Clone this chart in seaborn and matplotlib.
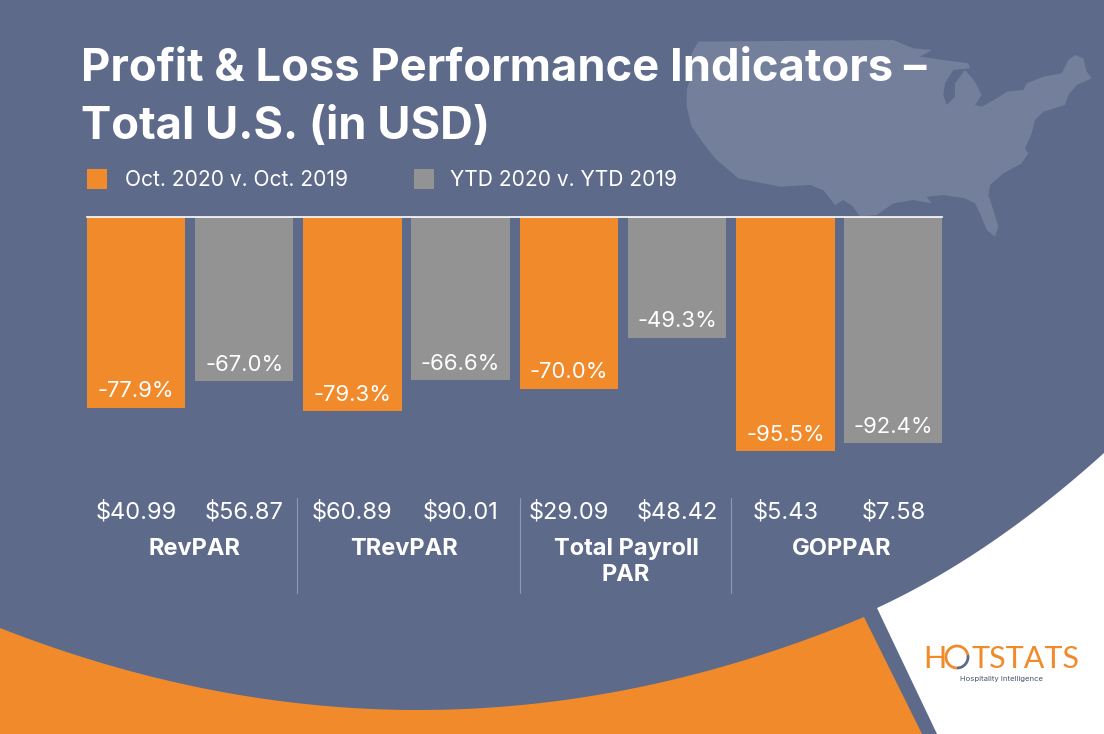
import numpy as np
import pandas as pd
import matplotlib
matplotlib.use("Agg")
import matplotlib.pyplot as plt
from matplotlib.patches import Arc, Polygon, Rectangle
from matplotlib.transforms import ScaledTranslation
import seaborn as sns

# data
metrics = ["RevPAR", "TRevPAR", "Total Payroll\nPAR", "GOPPAR"]
periods = ["Oct. 2020 v. Oct. 2019", "YTD 2020 v. YTD 2019"]
oct_change = [-77.9, -79.3, -70.0, -95.5]
ytd_change = [-67.0, -66.6, -49.3, -92.4]
oct_amounts = ["$40.99", "$60.89", "$29.09", "$5.43"]
ytd_amounts = ["$56.87", "$90.01", "$48.42", "$7.58"]

BLUE = "#5d6a8a"
ORANGE = "#f18a2b"
GREY = "#939393"
MAP = "#747f9b"

sns.set_theme(style="white")
plt.rcParams["font.family"] = ["Inter", "DejaVu Sans"]

W, H = 1104, 734
fig = plt.figure(figsize=(W / 100, H / 100), dpi=100, facecolor=BLUE)

# background layer in pixel coordinates
bg = fig.add_axes([0, 0, 1, 1], zorder=0)
bg.set_xlim(0, W)
bg.set_ylim(H, 0)
bg.axis("off")

# orange swoosh bottom left
coef = np.polyfit([0, 416, 864], [628, 710, 617], 2)
xs = np.linspace(0, 864, 200)
pts = list(zip(xs, np.polyval(coef, xs))) + [(922, H), (0, H)]
bg.add_patch(Polygon(pts, color=ORANGE, lw=0))

# white logo corner
coef = np.polyfit([877, 983, 1104], [608, 548, 453], 2)
xs = np.linspace(877, W, 200)
pts = list(zip(xs, np.polyval(coef, xs))) + [(W, H), (937, H)]
bg.add_patch(Polygon(pts, color="white", lw=0))

# US map outline, traced by hand
outline = [(115, 5), (700, 0), (760, 25), (815, 30), (780, 50), (850, 60), (925, 70), (930, 85),
           (880, 90), (855, 130), (850, 165), (860, 195), (885, 170), (885, 130), (915, 90),
           (945, 125), (965, 165), (945, 195), (965, 200), (1010, 175), (1040, 155), (1090, 150),
           (1100, 130), (1150, 110), (1205, 100), (1225, 60), (1245, 45), (1270, 55), (1280, 95),
           (1295, 115), (1250, 135), (1225, 165), (1215, 195), (1150, 215), (1125, 240),
           (1115, 280), (1095, 325), (1105, 340), (1085, 370), (1030, 400), (990, 435), (985, 465),
           (1000, 510), (1015, 560), (1005, 590), (980, 570), (960, 520), (945, 490), (915, 475),
           (850, 465), (800, 470), (815, 490), (760, 480), (700, 490), (650, 525), (600, 530),
           (580, 500), (550, 480), (525, 495), (490, 450), (450, 435), (360, 440), (235, 415),
           (165, 355), (130, 310), (95, 260), (80, 200), (80, 150), (95, 100), (85, 70), (100, 30)]
bg.add_patch(Polygon([(660 + x / 3, 40 + y / 3) for x, y in outline], color=MAP, lw=0))

# title
bg.text(81, 69, "Profit & Loss Performance Indicators \u2013", color="white", fontsize=32.65,
        fontweight="bold", va="center")
bg.text(81, 127, "Total U.S. (in USD)", color="white", fontsize=32.65, fontweight="bold", va="center")

# legend
for x0, color, label in zip([87, 414], [ORANGE, GREY], periods):
    bg.add_patch(Rectangle((x0, 169), 20, 20, color=color, lw=0))
    bg.text(x0 + 38 - (x0 == 414) * 2, 180, label, color="white", fontsize=15.1, va="center")

# separators
for x0 in [297, 520, 731]:
    bg.plot([x0, x0], [498, 593], color="#8f99b0", lw=0.8)

# logo
logo_font = dict(color=ORANGE, fontsize=22, family="Lato", va="center_baseline")
bg.text(923, 657, "H", **logo_font)
bg.add_patch(Arc((957, 657), 22, 22, theta1=90, theta2=350, color=ORANGE, lw=2))
bg.add_patch(Arc((957, 657), 22, 22, theta1=-10, theta2=90, color=BLUE, lw=2))
bg.text(971, 657, "TSTATS", **logo_font)
bg.text(1001, 679, "Hospitality Intelligence", color="#4b5570", fontsize=5.6, ha="center", va="center")

# bars
df = pd.DataFrame({
    "metric": metrics * 2,
    "period": [periods[0]] * 4 + [periods[1]] * 4,
    "change": oct_change + ytd_change,
})
ax = fig.add_axes([87 / W, 1 - 462 / H, 855 / W, 245 / H], zorder=1)
ax.patch.set_alpha(0)
sns.barplot(data=df, x="metric", y="change", hue="period", palette=[ORANGE, GREY],
            width=1.0, gap=0.09, saturation=1, legend=False, linewidth=0, ax=ax)
ax.set_xlim(-0.4758, 3.473)
ax.set_ylim(-100, 0)
ax.set_xlabel("")
ax.set_ylabel("")
ax.set_yticks([])
sns.despine(ax=ax, left=True, bottom=True, right=True, top=False)
ax.spines["top"].set_color("white")
ax.spines["top"].set_linewidth(1.2)
ax.tick_params(axis="x", length=0, pad=55, colors="white")
ax.xaxis.set_ticks_position("bottom")
# labels sit a few pixels off the group centres in the original
for lab, shift in zip(ax.get_xticklabels(), [4, -3, 3, 2]):
    lab.set_fontweight("bold")
    lab.set_fontsize(17)
    lab.set_color("white")
    lab.set_transform(lab.get_transform() + ScaledTranslation(shift / 100, 0, fig.dpi_scale_trans))

for container in ax.containers:
    ax.bar_label(container, fmt="%.1f%%", padding=-19, color="white", fontsize=15.9)

# dollar amounts under each bar
for i in range(len(metrics)):
    ax.text(i - 0.25, -0.204, oct_amounts[i], transform=ax.get_xaxis_transform(), color="white",
            fontsize=17, ha="center", va="center")
    ax.text(i + 0.25, -0.204, ytd_amounts[i], transform=ax.get_xaxis_transform(), color="white",
            fontsize=17, ha="center", va="center")

fig.savefig("out.png", dpi=100, facecolor=BLUE)
